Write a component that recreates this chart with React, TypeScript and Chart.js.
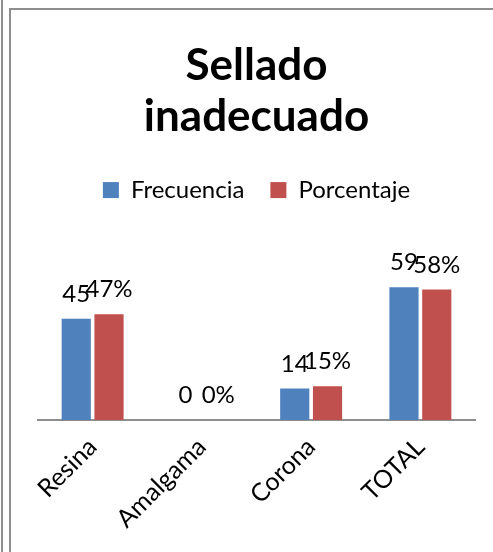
import React, { useEffect, useRef } from 'react';
import { Chart, registerables } from 'chart.js';

Chart.register(...registerables);

const categories = ['Resina', 'Amalgama', 'Corona', 'TOTAL'];
const frecuencia = [45, 0, 14, 59];
const porcentaje = [47, 0, 15, 58];
const seriesNames = ['Frecuencia', 'Porcentaje'];
const seriesSuffix = ['', '%'];
const titleLines = ['Sellado', 'inadecuado'];
const yMax = 80;

const BLUE = '#4F81BD';
const RED = '#C0504D';
const FONT = 'Lato, "Open Sans", sans-serif';

const framePlugin = {
  id: 'frame',
  beforeDraw(chart: any) {
    const { ctx, width, height } = chart;
    ctx.save();
    ctx.fillStyle = '#ffffff';
    ctx.fillRect(0, 0, width, height);
    ctx.strokeStyle = '#8e8e8e';
    ctx.lineWidth = 2;
    ctx.beginPath();
    ctx.moveTo(2, 0);
    ctx.lineTo(2, height);
    ctx.moveTo(10, height);
    ctx.lineTo(10, 9);
    ctx.lineTo(width, 9);
    ctx.stroke();
    ctx.restore();
  },
};

const legendSpacing = {
  id: 'legendSpacing',
  beforeInit(chart: any) {
    const origFit = chart.legend.fit;
    chart.legend.fit = function () {
      origFit.bind(chart.legend)();
      this.height += 28;
    };
  },
};

const valueLabels = {
  id: 'valueLabels',
  afterDatasetsDraw(chart: any) {
    const { ctx } = chart;
    ctx.save();
    ctx.font = `24px ${FONT}`;
    ctx.fillStyle = '#000';
    ctx.textAlign = 'center';
    ctx.textBaseline = 'alphabetic';
    chart.data.datasets.forEach((ds: any, di: number) => {
      const meta = chart.getDatasetMeta(di);
      meta.data.forEach((el: any, i: number) => {
        const v = ds.data[i];
        ctx.fillText(`${v}${seriesSuffix[di]}`, el.x, el.y - 17);
      });
    });
    ctx.restore();
  },
};

export default function App() {
  const ref = useRef<HTMLCanvasElement | null>(null);
  useEffect(() => {
    if (!ref.current) return;
    const chart = new Chart(ref.current, {
      type: 'bar',
      data: {
        labels: categories,
        datasets: [
          { label: seriesNames[0], data: frecuencia, backgroundColor: BLUE, categoryPercentage: 0.6, barPercentage: 0.89 },
          { label: seriesNames[1], data: porcentaje, backgroundColor: RED, categoryPercentage: 0.6, barPercentage: 0.89 },
        ],
      },
      options: {
        responsive: false,
        animation: false,
        layout: { padding: { left: 38, right: 18, top: 0, bottom: 6 } },
        plugins: {
          title: {
            display: true,
            text: titleLines,
            color: '#000',
            font: { family: FONT, size: 44, weight: 'bold', lineHeight: 1.16 },
            padding: { top: 40, bottom: 10 },
          },
          legend: {
            position: 'top',
            labels: {
              color: '#000',
              font: { family: FONT, size: 24 },
              boxWidth: 16,
              boxHeight: 16,
              padding: 26,
            },
          },
          tooltip: { enabled: false },
        },
        scales: {
          x: {
            grid: { display: false, drawTicks: false },
            border: { display: true, color: '#8e8e8e', width: 2 },
            ticks: {
              minRotation: 45,
              maxRotation: 45,
              color: '#000',
              font: { family: FONT, size: 25 },
              padding: 12,
            },
          },
          y: { display: false, min: 0, max: yMax },
        },
      },
      plugins: [framePlugin, legendSpacing, valueLabels],
    } as any);
    return () => chart.destroy();
  }, []);
  return (
    <div style={{ position: 'absolute', left: 0, top: 0, width: 493, height: 552 }}>
      <canvas ref={ref} width={493} height={552} style={{ display: 'block' }} />
    </div>
  );
}
